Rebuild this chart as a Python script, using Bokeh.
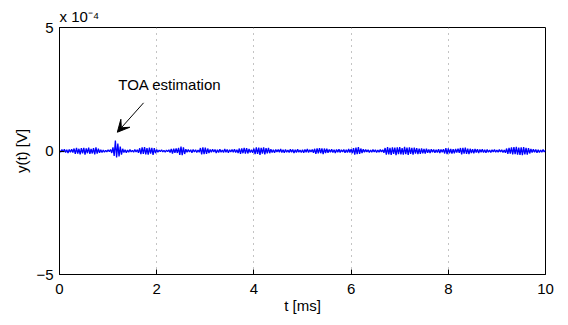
from bokeh.plotting import figure
from bokeh.models import Range1d, FixedTicker, Arrow, VeeHead, Label, ColumnDataSource
from bokeh.embed import file_html
from bokeh.resources import INLINE

# ---- data ----
t_start_ms = 0.0
t_step_ms = 0.025
# signal samples in units of 1e-5 V
y_1e5 = [
    0.3, -0.5, 0.6, -0.4, 0.7, -0.6, 0.5, -0.8, 0.6, -0.5, 0.7, -0.6, 1.0, -1.2, 1.3, -1.1, 0.9, -1.4, 1.2, -1.0,
    1.3, -1.5, 1.1, -0.9, 1.4, -1.2, 0.8, -1.0, 1.2, -1.4, 1.5, -1.1, 0.9, -0.7, 0.5, -0.6, 0.4, -0.5, 0.3, -0.4,
    0.5, -0.3, 0.6, -0.8, 1.5, -2.0, 4.2, -2.6, 3.0, -2.2, 1.8, -1.5, 0.9, -0.6, 0.5, -0.7, 0.4, -0.5, 0.6, -0.4,
    0.3, -0.5, 0.6, -0.4, 0.5, -0.7, 1.1, -1.3, 1.5, -1.2, 1.6, -1.4, 1.2, -1.5, 1.4, -1.1, 1.3, -1.6, 1.2, -0.9,
    0.6, -0.5, 0.4, -0.3, 0.5, -0.4, 0.3, -0.5, 0.4, -0.3, 0.5, -0.6, 0.8, -1.0, 0.9, -0.7, 1.0, -0.8, 1.3, -1.6,
    1.8, -1.7, 1.5, -1.2, 0.7, -0.5, 0.6, -0.4, 0.5, -0.7, 0.6, -0.4, 0.5, -0.6, 0.4, -0.5, 1.2, -1.4, 1.5, -1.3,
    1.4, -1.2, 1.0, -0.8, 0.6, -0.5, 0.7, -0.4, 0.6, -0.8, 0.5, -0.6, 0.7, -0.5, 0.4, -0.6, 0.8, -0.5, 0.6, -0.7,
    0.5, -0.4, 0.6, -0.5, 0.7, -0.6, 0.5, -0.8, 1.0, -1.2, 1.1, -0.9, 1.3, -1.1, 1.2, -1.0, 0.8, -0.6, 0.5, -0.7,
    1.0, -1.3, 1.5, -1.2, 1.4, -1.6, 1.3, -1.1, 1.5, -1.4, 1.2, -1.0, 1.3, -0.9, 0.7, -0.6, 0.5, -0.7, 0.6, -0.4,
    0.6, -0.5, 0.8, -0.6, 0.5, -0.7, 0.6, -0.5, 0.4, -0.6, 0.7, -0.5, 0.6, -0.8, 0.5, -0.6, 0.7, -0.5, 0.4, -0.6,
    0.5, -0.7, 0.6, -0.5, 0.8, -0.6, 0.5, -0.4, 0.6, -0.7, 0.9, -1.2, 1.1, -1.0, 1.2, -0.9, 1.1, -1.3, 1.0, -0.8,
    0.9, -0.7, 0.6, -0.5, 0.7, -0.6, 0.5, -0.8, 0.6, -0.5, 0.7, -0.6, 0.5, -0.4, 0.6, -0.7, 0.5, -0.6, 0.8, -0.6,
    0.7, -0.9, 1.2, -1.5, 1.4, -1.3, 1.6, -1.2, 1.0, -0.8, 0.7, -0.5, 0.6, -0.4, 0.5, -0.6, 0.4, -0.5, 0.6, -0.4,
    0.5, -0.6, 0.4, -0.5, 0.6, -0.4, 0.5, -0.7, 1.2, -1.5, 1.6, -1.4, 1.3, -1.6, 1.5, -1.2, 1.4, -1.7, 1.5, -1.3,
    1.6, -1.4, 1.2, -1.5, 1.7, -1.3, 1.4, -1.6, 1.5, -1.2, 1.3, -1.5, 1.4, -1.1, 1.2, -1.3, 1.0, -1.2, 1.1, -0.9,
    0.8, -1.0, 0.9, -0.7, 0.6, -0.8, 0.7, -0.5, 0.6, -0.7, 0.5, -0.6, 0.7, -0.8, 0.6, -0.5, 0.7, -1.0, 1.2, -1.3,
    1.1, -0.9, 0.8, -1.0, 0.7, -0.9, 0.8, -0.6, 0.9, -0.7, 1.2, -1.4, 1.3, -1.1, 1.4, -1.2, 1.0, -1.3, 0.9, -0.8,
    0.7, -0.9, 0.8, -0.6, 0.7, -0.8, 0.6, -0.5, 0.7, -0.6, 0.5, -0.7, 0.6, -0.5, 0.4, -0.6, 0.5, -0.4, 0.6, -0.5,
    0.4, -0.5, 0.6, -0.4, 0.5, -0.6, 0.4, -0.7, 1.0, -1.2, 1.3, -1.1, 1.5, -1.4, 1.6, -1.3, 1.7, -1.5, 1.4, -1.6,
    1.5, -1.7, 1.6, -1.4, 1.3, -1.5, 1.2, -1.0, 0.8, -0.6, 0.7, -0.5, 0.6, -0.7, 0.5, -0.6, 0.4, -0.5, 0.6, -0.4,
    0.3,
]
t_ms = [t_start_ms + i * t_step_ms for i in range(len(y_1e5))]
y_volts = [v * 1e-5 for v in y_1e5]

x_ticks = [0, 2, 4, 6, 8, 10]
y_ticks = [-5e-4, 0.0, 5e-4]
y_tick_labels = {-5e-4: "\u22125", 0.0: "0", 5e-4: "5"}
exponent_text = "x 10\u207b\u2074"

FONT = "Liberation Sans"
FS = "15px"

p = figure(width=566, height=323, output_backend="svg", toolbar_location=None,
           x_range=Range1d(0, 10), y_range=Range1d(-5e-4, 5e-4),
           min_border_left=59, min_border_right=21, min_border_top=27, min_border_bottom=49)
p.background_fill_color = "white"
p.border_fill_color = "white"
p.outline_line_color = "black"
p.outline_line_width = 1

# exponent as title (top-left)
p.title.text = exponent_text
p.title.align = "left"
p.title.text_font = FONT
p.title.text_font_size = FS
p.title.text_font_style = "normal"
p.title.text_color = "black"
p.title.standoff = 5
p.title.offset = 0

src = ColumnDataSource(dict(t=t_ms, y=y_volts))
p.line("t", "y", source=src, line_color="#0000ff", line_width=1.3)

# axes
xa = p.xaxis[0]
xa.ticker = FixedTicker(ticks=x_ticks)
xa.axis_label = "t [ms]"
ya = p.yaxis[0]
ya.ticker = FixedTicker(ticks=y_ticks)
ya.major_label_overrides = y_tick_labels
ya.axis_label = "y(t) [V]"
for ax in (xa, ya):
    ax.major_tick_in = 5
    ax.major_tick_out = 0
    ax.minor_tick_in = 0
    ax.minor_tick_out = 0
    ax.axis_line_color = "black"
    ax.major_tick_line_color = "black"
    ax.major_label_text_font = FONT
    ax.major_label_text_font_size = FS
    ax.major_label_text_color = "black"
    ax.axis_label_text_font = FONT
    ax.axis_label_text_font_size = FS
    ax.axis_label_text_font_style = "normal"
    ax.axis_label_text_color = "black"
xa.major_label_standoff = 9
xa.axis_label_standoff = 0
ya.major_label_standoff = 6
ya.axis_label_standoff = 3

# grid: vertical dotted only
p.xgrid.ticker = FixedTicker(ticks=x_ticks)
p.xgrid.grid_line_color = "#888888"
p.xgrid.grid_line_dash = "1 5"
p.ygrid.grid_line_color = None

# annotation
p.add_layout(Arrow(end=VeeHead(size=12, fill_color="black", line_color="black"),
                   x_start=1.73, y_start=1.95e-4, x_end=1.19, y_end=7.6e-5,
                   line_color="black", line_width=1))
p.add_layout(Label(x=1.21, y=2.68e-4, text="TOA estimation", text_font=FONT, text_font_size=FS,
                   text_color="black", text_baseline="alphabetic"))

open("out.html", "w").write(file_html(p, INLINE))
